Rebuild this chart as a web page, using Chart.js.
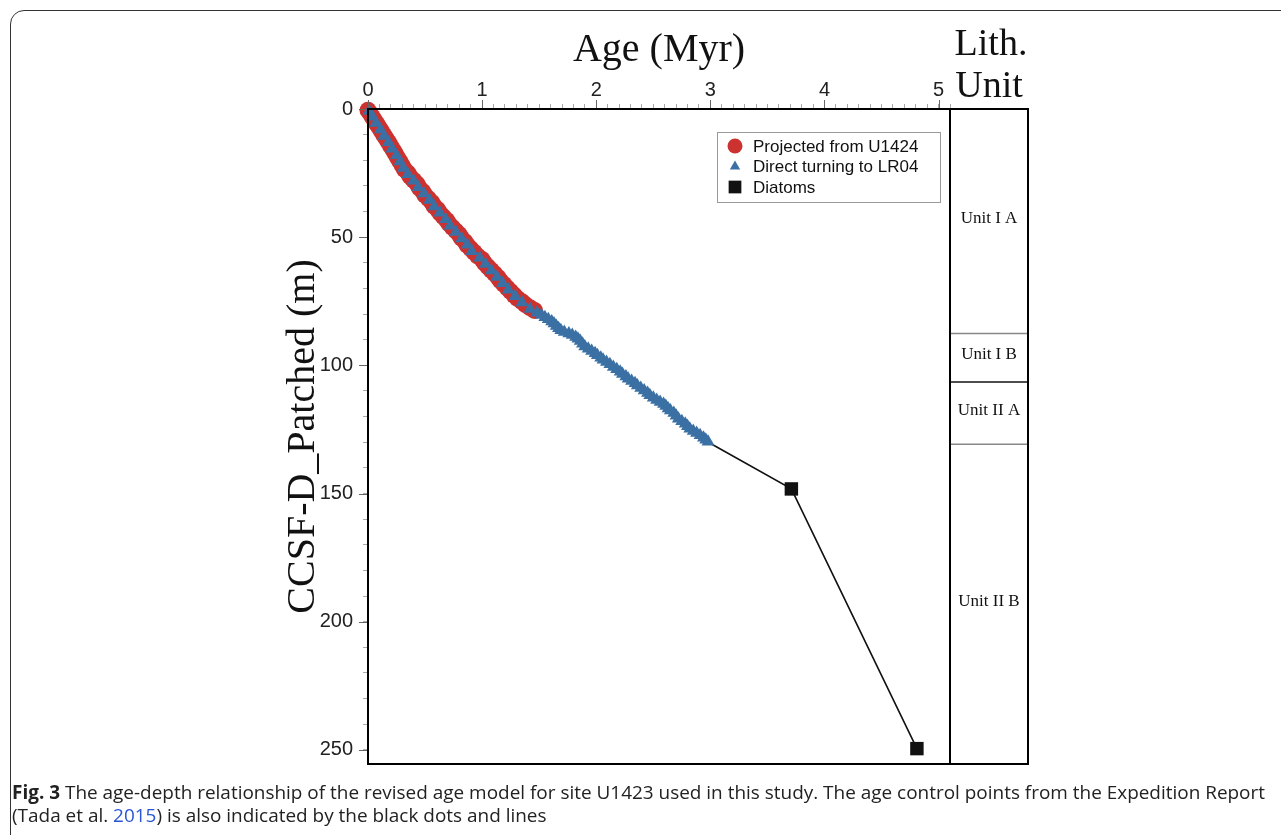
<!DOCTYPE html>
<html>
<head>
<meta charset="utf-8">
<script src="https://cdn.jsdelivr.net/npm/chart.js@4.4.1/dist/chart.umd.min.js"></script>
<style>
html, body { margin: 0; padding: 0; background: #fff; }
body { width: 1281px; height: 835px; position: relative; overflow: hidden; }
#frame { position: absolute; left: 10px; top: 10px; width: 1300px; height: 850px; border: 1.5px solid #333; border-radius: 14px; box-sizing: border-box; }
#wrap { position: absolute; left: 0; top: 0; width: 1281px; height: 786px; }
#caption { position: absolute; left: 12px; top: 781px; font-family: "Open Sans"; font-size: 19px; line-height: 23px; color: #222; white-space: nowrap; transform-origin: 0 0; }
#caption a { color: #2a55d6; text-decoration: none; }
</style>
</head>
<body>
<div id="frame"></div>
<div id="wrap"><canvas id="grafico" width="1281" height="786"></canvas></div>
<div id="caption"><span id="linha1"><b>Fig. 3</b> The age-depth relationship of the revised age model for site U1423 used in this study. The age control points from the Expedition Report</span><br>(Tada et al. <a>2015</a>) is also indicated by the black dots and lines</div>
<script>
// Dados: idade (Myr) x profundidade (m)
var idadeProjetada = [0.00, 0.02, 0.04, 0.06, 0.08, 0.10, 0.12, 0.14, 0.16, 0.18, 0.20, 0.22, 0.24, 0.26, 0.28, 0.30,
    0.32, 0.35, 0.37, 0.40, 0.43, 0.45, 0.48, 0.50, 0.53, 0.56, 0.58, 0.61, 0.63, 0.66, 0.69, 0.71, 0.74, 0.77,
    0.80, 0.82, 0.85, 0.87, 0.90, 0.93, 0.96, 1.00, 1.02, 1.05, 1.08, 1.11, 1.14, 1.16, 1.19, 1.22, 1.25, 1.28,
    1.31, 1.35, 1.38, 1.42, 1.46];
var profProjetada = [0.5, 1.8, 3.2, 4.6, 6.0, 7.4, 8.8, 10.2, 11.6, 13.0, 14.5, 16.0, 17.5, 19.0, 20.5, 22.0,
    23.6, 25.0, 26.4, 27.8, 29.3, 30.8, 32.2, 33.6, 35.0, 36.5, 37.9, 39.2, 40.6, 42.0, 43.4, 44.8, 46.2, 47.6,
    49.0, 50.4, 51.8, 53.1, 54.5, 55.9, 57.3, 58.7, 60.1, 61.5, 62.9, 64.3, 65.7, 67.0, 68.4, 69.8, 71.2, 72.6,
    73.9, 75.2, 76.4, 77.5, 78.6];

var idadeLR04 = [0.01, 0.04, 0.07, 0.11, 0.14, 0.18, 0.21, 0.25, 0.28, 0.31, 0.35, 0.40, 0.44, 0.49, 0.54, 0.58,
    0.63, 0.68, 0.72, 0.77, 0.82, 0.87, 0.91, 0.98, 1.03, 1.08, 1.13, 1.18, 1.23, 1.29, 1.35, 1.42,
    1.48, 1.52, 1.55, 1.58, 1.61, 1.63, 1.65, 1.67, 1.69, 1.72, 1.76, 1.79, 1.82, 1.84, 1.86, 1.88, 1.90, 1.93,
    1.96, 1.99, 2.01, 2.04, 2.06, 2.09, 2.12, 2.15, 2.18, 2.21, 2.23, 2.26, 2.28, 2.31, 2.34, 2.36, 2.39, 2.42,
    2.45, 2.47, 2.50, 2.53, 2.56, 2.59, 2.61, 2.63, 2.65, 2.68, 2.70, 2.72, 2.75, 2.78, 2.80, 2.82, 2.85, 2.88,
    2.91, 2.94, 2.96, 2.98];
var profLR04 = [0.8, 3.0, 5.5, 8.0, 10.5, 13.0, 15.5, 18.0, 20.5, 23.0, 25.5, 28.0, 30.5, 33.0, 35.5, 38.0,
    40.5, 43.0, 45.5, 48.0, 50.5, 53.0, 55.5, 58.0, 60.5, 63.0, 65.5, 68.0, 70.5, 73.0, 75.5, 78.0,
    79.5, 80.4, 81.2, 82.0, 82.9, 83.7, 84.6, 85.5, 86.3, 87.0, 87.6, 88.2, 88.9, 89.6, 90.5, 91.6, 92.6, 93.5,
    94.4, 95.3, 96.1, 97.0, 97.8, 98.7, 99.6, 100.6, 101.5, 102.5, 103.4, 104.3, 105.2, 106.1, 107.0, 107.9, 108.8, 109.8,
    110.8, 111.7, 112.6, 113.5, 114.3, 115.1, 115.9, 116.8, 117.6, 118.6, 119.7, 120.8, 121.8, 122.8, 123.8, 124.7, 125.6, 126.4,
    127.3, 128.2, 129.0, 129.8];

var idadeDiatomaceas = [2.99, 3.71, 4.81];
var profDiatomaceas = [130.2, 148.2, 249.5];

var nomesSeries = ['Projected from U1424', 'Direct turning to LR04', 'Diatoms'];
var ticksIdade = [0, 1, 2, 3, 4, 5];
var ticksProf = [0, 50, 100, 150, 200, 250];

// Unidades litológicas (m)
var nomesUnidades = ['Unit I A', 'Unit I B', 'Unit II A', 'Unit II B'];
var topoUnidades = [0, 87.6, 106.5, 130.8];
var baseUnidades = [87.6, 106.5, 130.8, 255.5];

function juntar(xs, ys) {
    var pts = [];
    for (var i = 0; i < xs.length; i++) pts.push({ x: xs[i], y: ys[i] });
    return pts;
}

function ehInteiro(v, lista) {
    for (var i = 0; i < lista.length; i++) {
        if (Math.abs(v - lista[i]) < 1e-6) return true;
    }
    return false;
}

var corVermelha = 'rgb(204, 50, 48)';
var corAzul = 'rgb(58, 112, 163)';

// Coluna da litologia, moldura e legenda
var pluginExtras = {
    id: 'extras',
    afterDraw: function (chart) {
        var ctx = chart.ctx;
        var area = chart.chartArea;
        var y = chart.scales.y;
        var x = chart.scales.x;
        var colEsq = area.right, colDir = area.right + 78;

        ctx.save();
        // ticks maiores
        ctx.strokeStyle = '#666';
        ctx.lineWidth = 1;
        ticksIdade.forEach(function (t) {
            var px = Math.round(x.getPixelForValue(t)) + 0.5;
            ctx.beginPath(); ctx.moveTo(px, area.top); ctx.lineTo(px, area.top - 9); ctx.stroke();
        });
        ticksProf.forEach(function (t) {
            var py = Math.round(y.getPixelForValue(t)) + 0.5;
            ctx.beginPath(); ctx.moveTo(area.left, py); ctx.lineTo(area.left - 9, py); ctx.stroke();
        });

        // unidades
        ctx.font = '17px "Liberation Serif"';
        ctx.fillStyle = '#111';
        ctx.textAlign = 'center';
        ctx.textBaseline = 'middle';
        for (var i = 0; i < nomesUnidades.length; i++) {
            var yt = y.getPixelForValue(topoUnidades[i]);
            var yb = y.getPixelForValue(baseUnidades[i]);
            ctx.fillText(nomesUnidades[i], (colEsq + colDir) / 2, (yt + yb) / 2 - 3);
            if (i < nomesUnidades.length - 1) {
                ctx.strokeStyle = (i === 1) ? '#111' : '#888';
                ctx.lineWidth = 1.5;
                ctx.beginPath(); ctx.moveTo(colEsq, yb); ctx.lineTo(colDir, yb); ctx.stroke();
            }
        }
        ctx.strokeStyle = '#000';
        ctx.lineWidth = 2;
        ctx.strokeRect(area.left, area.top, area.right - area.left, area.bottom - area.top);
        ctx.strokeRect(colEsq, area.top, colDir - colEsq, area.bottom - area.top);

        // cabeçalho
        ctx.font = '38px "Liberation Serif"';
        ctx.fillStyle = '#111';
        ctx.textBaseline = 'alphabetic';
        ctx.fillText('Lith.', (colEsq + colDir) / 2 + 2, 55);
        ctx.fillText('Unit', (colEsq + colDir) / 2, 97);

        // legenda
        var lx = 717, ly = 132, lw = 223, lh = 70;
        ctx.fillStyle = '#fff';
        ctx.fillRect(lx, ly, lw, lh);
        ctx.strokeStyle = '#999';
        ctx.lineWidth = 1;
        ctx.strokeRect(lx + 0.5, ly + 0.5, lw, lh);
        ctx.font = '17px "Liberation Sans"';
        ctx.textAlign = 'left';
        ctx.textBaseline = 'middle';
        var simbolos = [
            { style: 'circle', r: 7.5, cor: corVermelha },
            { style: 'triangle', r: 6, cor: corAzul },
            { style: 'rect', r: 9, cor: '#111' }
        ];
        for (var k = 0; k < nomesSeries.length; k++) {
            var cy = ly + 14 + k * 20.5;
            ctx.fillStyle = simbolos[k].cor;
            ctx.strokeStyle = simbolos[k].cor;
            Chart.helpers.drawPoint(ctx, { pointStyle: simbolos[k].style, radius: simbolos[k].r, borderWidth: 0, rotation: 0 }, lx + 18, cy);
            ctx.fillStyle = '#111';
            ctx.fillText(nomesSeries[k], lx + 36, cy + 1);
        }
        ctx.restore();
    }
};

Chart.defaults.font.family = '"Liberation Sans", Arial, sans-serif';

var ctx = document.getElementById('grafico').getContext('2d');
var meuGrafico = new Chart(ctx, {
    type: 'scatter',
    data: {
        datasets: [{
            label: nomesSeries[0],
            data: juntar(idadeProjetada, profProjetada),
            pointStyle: 'circle',
            pointRadius: 8.5,
            backgroundColor: corVermelha,
            borderColor: corVermelha,
            borderWidth: 0,
            clip: false,
            order: 1
        }, {
            label: nomesSeries[1],
            data: juntar(idadeLR04, profLR04),
            pointStyle: 'triangle',
            pointRadius: 7.5,
            backgroundColor: corAzul,
            borderColor: corAzul,
            borderWidth: 0,
            clip: false,
            order: 0
        }, {
            label: nomesSeries[2],
            data: juntar(idadeDiatomaceas, profDiatomaceas),
            showLine: true,
            pointStyle: 'rect',
            pointRadius: [0, 9.5, 9.5],
            backgroundColor: '#111',
            borderColor: '#111',
            borderWidth: 1.6,
            pointBorderWidth: 0,
            clip: false,
            order: 2
        }]
    },
    options: {
        responsive: false,
        animation: false,
        layout: { padding: { left: 279, top: 26, right: 331, bottom: 7 } },
        plugins: {
            legend: { display: false },
            tooltip: { enabled: false }
        },
        scales: {
            x: {
                type: 'linear',
                position: 'top',
                min: 0,
                max: 5.1,
                afterFit: function (s) { s.height = 83; },
                ticks: {
                    stepSize: 0.1,
                    includeBounds: false,
                    autoSkip: false,
                    maxRotation: 0,
                    padding: 2,
                    color: '#222',
                    font: { size: 20 },
                    callback: function (v) { return ehInteiro(v, ticksIdade) ? String(Math.round(v)) : ''; }
                },
                grid: {
                    drawOnChartArea: false,
                    tickLength: 5,
                    color: '#aaa'
                },
                border: { color: '#000', width: 2 },
                title: {
                    display: true,
                    text: 'Age (Myr)',
                    color: '#111',
                    padding: 0,
                    font: { family: '"Liberation Serif"', size: 40 }
                }
            },
            y: {
                type: 'linear',
                reverse: true,
                min: 0,
                max: 255.5,
                afterFit: function (s) { s.width = 89; },
                ticks: {
                    stepSize: 10,
                    includeBounds: false,
                    autoSkip: false,
                    padding: 10,
                    color: '#222',
                    font: { size: 20 },
                    callback: function (v) { return ehInteiro(v, ticksProf) ? String(Math.round(v)) : ''; }
                },
                grid: {
                    drawOnChartArea: false,
                    tickLength: 5,
                    color: '#aaa'
                },
                border: { color: '#000', width: 2 },
                title: {
                    display: true,
                    text: 'CCSF-D_Patched (m)',
                    color: '#111',
                    padding: 0,
                    font: { family: '"Liberation Serif"', size: 40 }
                }
            }
        }
    },
    plugins: [pluginExtras]
});

// Ajusta a largura da legenda da figura
var linha1 = document.getElementById('linha1');
var largura = linha1.getBoundingClientRect().width;
if (largura > 0) {
    document.getElementById('caption').style.transform = 'scaleX(' + (1253 / largura) + ')';
}
</script>
</body>
</html>
